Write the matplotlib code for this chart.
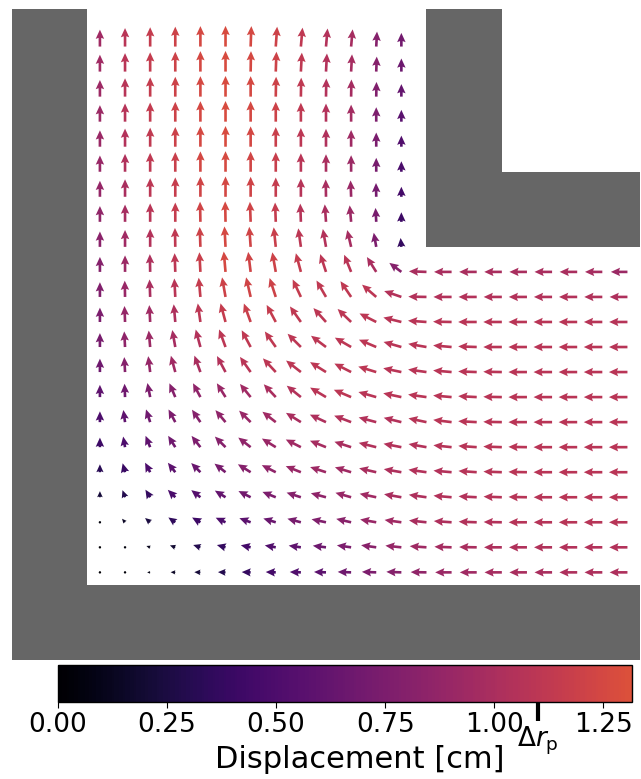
import numpy as np
import matplotlib
matplotlib.use("Agg")
import matplotlib.pyplot as plt
from matplotlib.colors import ListedColormap, Normalize
from matplotlib.patches import Rectangle

nan = np.nan

# cell centres of the displacement grid (domain units)
x_cells = np.arange(3.5, 25.0, 1.0)
y_cells = np.arange(24.5, 3.0, -1.0)  # top row first

# displacement magnitude [cm], rows top -> bottom, columns left -> right
disp_rows = [
    [0.95, 1.08, 1.15, 1.20, 1.25, 1.27, 1.25, 1.20, 1.12, 1.05, 0.98, 0.80, 0.70],
    [0.95, 1.08, 1.15, 1.20, 1.25, 1.27, 1.25, 1.20, 1.12, 1.05, 0.98, 0.80, 0.66],
    [0.93, 1.07, 1.15, 1.20, 1.25, 1.27, 1.25, 1.20, 1.12, 1.05, 0.97, 0.78, 0.62],
    [0.92, 1.06, 1.14, 1.20, 1.25, 1.27, 1.25, 1.20, 1.12, 1.05, 0.96, 0.76, 0.57],
    [0.91, 1.05, 1.13, 1.19, 1.25, 1.27, 1.24, 1.18, 1.10, 1.03, 0.94, 0.74, 0.52],
    [0.90, 1.03, 1.12, 1.18, 1.24, 1.26, 1.23, 1.17, 1.08, 1.00, 0.92, 0.72, 0.48],
    [0.88, 1.00, 1.10, 1.16, 1.22, 1.24, 1.21, 1.15, 1.06, 0.99, 0.91, 0.71, 0.45],
    [0.86, 0.98, 1.08, 1.15, 1.22, 1.25, 1.21, 1.15, 1.06, 1.00, 0.92, 0.72, 0.42],
    [0.83, 0.95, 1.05, 1.12, 1.20, 1.25, 1.22, 1.18, 1.10, 1.05, 0.98, 0.75, 0.38],
    [0.80, 0.92, 1.02, 1.10, 1.18, 1.25, 1.22, 1.20, 1.15, 1.10, 1.08, 1.00, 0.80,
     1.00, 1.00, 1.00, 1.00, 1.00, 1.00, 1.00, 0.98, 0.92],
    [0.78, 0.90, 1.00, 1.08, 1.15, 1.20, 1.22, 1.20, 1.15, 1.12, 1.12, 1.10, 1.05,
     1.05, 1.05, 1.05, 1.05, 1.05, 1.05, 1.05, 1.04, 1.02],
    [0.75, 0.88, 0.95, 1.02, 1.10, 1.15, 1.18, 1.15, 1.12, 1.10, 1.10, 1.10, 1.08,
     1.08, 1.08, 1.08, 1.08, 1.08, 1.08, 1.08, 1.07, 1.06],
    [0.72, 0.85, 0.92, 0.98, 1.05, 1.10, 1.12, 1.12, 1.10, 1.10, 1.10, 1.10, 1.08,
     1.08, 1.08, 1.08, 1.08, 1.08, 1.08, 1.08, 1.08, 1.07],
    [0.68, 0.80, 0.88, 0.95, 1.00, 1.05, 1.08, 1.10, 1.10, 1.10, 1.10, 1.10, 1.08,
     1.08, 1.08, 1.08, 1.08, 1.08, 1.08, 1.08, 1.08, 1.08],
    [0.60, 0.68, 0.75, 0.80, 0.85, 0.90, 0.95, 1.00, 1.05, 1.08, 1.10, 1.08, 1.08,
     1.08, 1.08, 1.08, 1.08, 1.08, 1.08, 1.08, 1.08, 1.08],
    [0.50, 0.60, 0.68, 0.75, 0.80, 0.85, 0.90, 0.95, 1.00, 1.02, 1.05, 1.05, 1.05,
     1.07, 1.08, 1.08, 1.08, 1.08, 1.08, 1.08, 1.08, 1.08],
    [0.42, 0.50, 0.60, 0.68, 0.75, 0.80, 0.85, 0.90, 0.95, 0.98, 1.00, 1.04, 1.05,
     1.05, 1.06, 1.07, 1.08, 1.08, 1.08, 1.08, 1.08, 1.08],
    [0.32, 0.40, 0.50, 0.58, 0.65, 0.72, 0.80, 0.85, 0.90, 0.93, 0.95, 1.00, 1.02,
     1.05, 1.05, 1.06, 1.07, 1.08, 1.08, 1.08, 1.08, 1.08],
    [0.22, 0.30, 0.38, 0.48, 0.55, 0.62, 0.70, 0.75, 0.80, 0.85, 0.90, 0.95, 1.00,
     1.02, 1.05, 1.05, 1.06, 1.07, 1.07, 1.08, 1.08, 1.08],
    [0.05, 0.15, 0.25, 0.35, 0.42, 0.50, 0.58, 0.65, 0.72, 0.78, 0.82, 0.90, 0.95,
     1.00, 1.02, 1.04, 1.05, 1.06, 1.06, 1.07, 1.07, 1.07],
    [0.02, 0.05, 0.12, 0.20, 0.30, 0.38, 0.45, 0.52, 0.60, 0.67, 0.75, 0.82, 0.88,
     0.94, 0.97, 1.00, 1.02, 1.03, 1.04, 1.05, 1.05, 1.05],
    [0.02, 0.03, 0.08, 0.15, 0.22, 0.30, 0.38, 0.45, 0.52, 0.58, 0.68, 0.75, 0.80,
     0.86, 0.91, 0.95, 0.98, 1.00, 1.00, 1.02, 1.02, 1.02],
]

# direction of displacement [deg, counter-clockwise from +x]
angle_rows = [
    [90, 90, 90, 90, 90, 90, 88, 86, 85, 85, 85, 87, 90],
    [90, 90, 90, 90, 90, 90, 89, 88, 87, 87, 87, 88, 90],
    [90, 90, 90, 90, 90, 90, 90, 89, 89, 89, 89, 89, 90],
    [90, 90, 90, 90, 90, 90, 90, 90, 90, 90, 90, 90, 90],
    [90, 90, 90, 90, 90, 90, 90, 90, 90, 90, 90, 90, 90],
    [90, 90, 90, 90, 90, 90, 90, 90, 90, 90, 90, 90, 90],
    [90, 90, 90, 90, 90, 90, 90, 90, 90, 91, 92, 91, 90],
    [90, 90, 90, 90, 91, 91, 92, 92, 92, 94, 95, 93, 90],
    [90, 90, 90, 91, 92, 93, 94, 96, 98, 100, 103, 100, 95],
    [90, 90, 91, 92, 93, 95, 97, 100, 105, 108, 112, 122, 143,
     178, 180, 180, 180, 180, 180, 180, 180, 180],
    [90, 91, 92, 93, 95, 100, 103, 108, 115, 120, 124, 139, 161,
     179, 180, 180, 180, 180, 180, 180, 180, 180],
    [90, 92, 93, 95, 98, 105, 110, 118, 125, 132, 136, 153, 166,
     176, 179, 180, 180, 180, 180, 180, 180, 180],
    [90, 93, 95, 100, 105, 110, 118, 125, 135, 143, 150, 157, 164,
     170, 175, 178, 180, 180, 180, 180, 180, 180],
    [90, 93, 97, 105, 110, 118, 125, 133, 142, 148, 153, 163, 168,
     172, 175, 178, 179, 180, 180, 180, 180, 180],
    [90, 92, 101, 113, 118, 122, 129, 133, 141, 149, 157, 164, 168,
     172, 175, 177, 179, 180, 180, 180, 180, 180],
    [90, 98, 108, 118, 124, 130, 135, 142, 148, 155, 159, 165, 166,
     168, 173, 177, 179, 180, 180, 180, 180, 180],
    [90, 100, 112, 122, 128, 135, 142, 148, 153, 158, 162, 166, 169,
     170, 174, 176, 178, 179, 180, 180, 180, 180],
    [90, 105, 118, 128, 135, 142, 148, 153, 158, 162, 163, 167, 170,
     172, 175, 176, 178, 179, 180, 180, 180, 180],
    [90, 110, 122, 135, 142, 148, 153, 158, 162, 165, 164, 168, 170,
     172, 175, 177, 178, 179, 180, 180, 180, 180],
    [135, 130, 140, 145, 150, 155, 160, 163, 165, 168, 167, 170, 172,
     174, 176, 178, 179, 180, 180, 180, 180, 180],
    [150, 150, 160, 160, 162, 165, 168, 170, 172, 173, 172, 172, 174,
     176, 178, 179, 180, 180, 180, 180, 180, 180],
    [180, 180, 180, 178, 178, 178, 178, 178, 178, 178, 178, 178, 178,
     179, 180, 180, 180, 180, 180, 180, 180, 180],
]

# walls (x, y, width, height) in domain units
walls = [(0, 0, 3, 26), (0, 0, 25, 3), (16.5, 16.5, 3, 9.5), (16.5, 16.5, 8.5, 3)]

cbar_ticks = [0.0, 0.25, 0.5, 0.75, 1.0, 1.25]
disp_max = 1.316
dr_p = 1.1


def to_grid(rows):
    g = np.full((len(rows), len(x_cells)), nan)
    for k, r in enumerate(rows):
        g[k, :len(r)] = r
    return g


D = to_grid(disp_rows)
A = np.deg2rad(to_grid(angle_rows))
X, Y = np.meshgrid(x_cells, y_cells)
ok = ~np.isnan(D)

# arrow length compressed so small displacements stay visible
L = D ** 0.7
U = L * np.cos(A)
V = L * np.sin(A)

cmap = ListedColormap(plt.cm.inferno(np.linspace(0, 0.6, 256)))
norm = Normalize(0, disp_max)

fig = plt.figure(figsize=(6.41, 7.79), dpi=100)
ax = fig.add_axes([12 / 641, 119 / 779, 628 / 641, 651 / 779])
ax.set_xlim(0, 25)
ax.set_ylim(0, 26)
ax.axis("off")

for (x0, y0, w, h) in walls:
    ax.add_patch(Rectangle((x0, y0), w, h, facecolor="#666666", edgecolor="none", zorder=3))

q = ax.quiver(
    X[ok], Y[ok], U[ok], V[ok], D[ok],
    cmap=cmap, norm=norm,
    pivot="tail", angles="xy", scale_units="xy", scale=1.43,
    width=0.0042, headwidth=3.2, headlength=3.5, headaxislength=3.1,
    zorder=2,
)

cax = fig.add_axes([58 / 641, 77 / 779, 574 / 641, 37 / 779])
cb = fig.colorbar(q, cax=cax, orientation="horizontal", ticks=cbar_ticks, format="%.2f")
cb.outline.set_linewidth(1)
cax.tick_params(labelsize=19, length=4)
cb.set_ticks([dr_p], labels=[r"$\Delta r_\mathrm{p}$"], minor=True)
cax.tick_params(which="minor", length=14, width=3, labelsize=19, pad=2)

fig.text(360 / 641, 1 - 745 / 779, "Displacement [cm]", ha="center", va="top", fontsize=22)

fig.savefig("out.png", dpi=100)
